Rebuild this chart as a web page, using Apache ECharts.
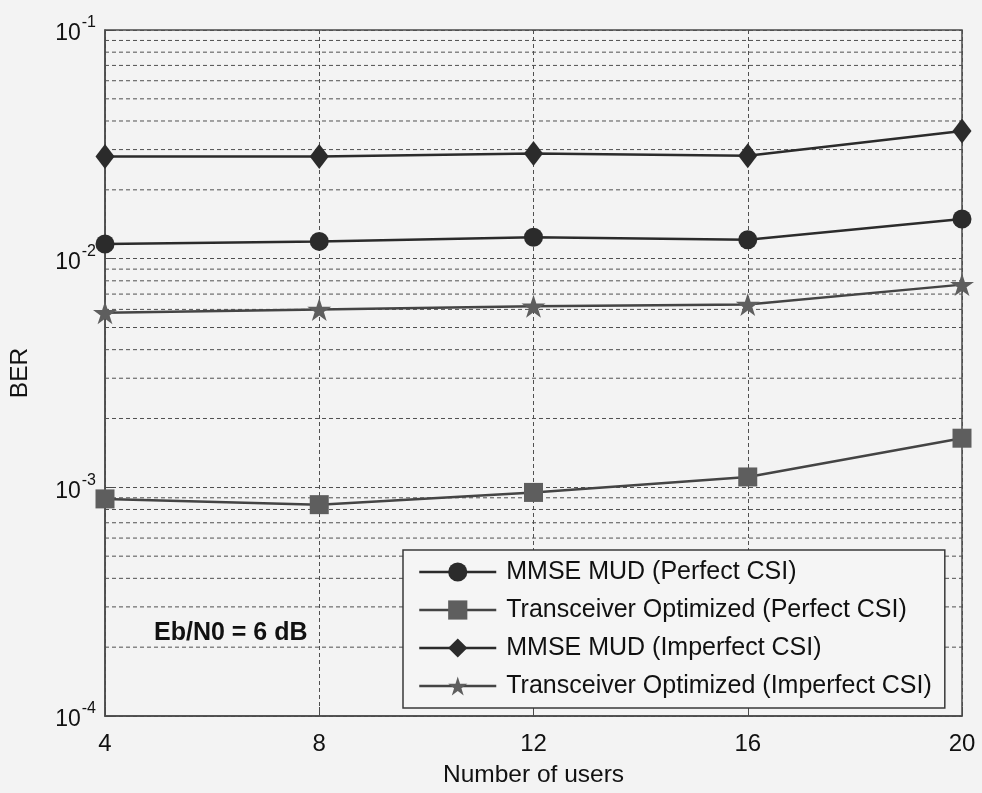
<!DOCTYPE html>
<html>
<head>
<meta charset="utf-8">
<script src="https://cdn.jsdelivr.net/npm/echarts@6/dist/echarts.min.js"></script>
<style>
html,body{margin:0;padding:0;background:#f3f3f3;}
#main{width:982px;height:793px;}
</style>
</head>
<body>
<div id="main"></div>
<script>
// ---- data ----
var users = [4, 8, 12, 16, 20];
var mmsePerfect   = [0.0116, 0.0119, 0.0124, 0.0121, 0.0149];
var toPerfect     = [0.00089, 0.00084, 0.00095, 0.00111, 0.00164];
var mmseImperfect = [0.0280, 0.0280, 0.0288, 0.0282, 0.0362];
var toImperfect   = [0.0058, 0.0060, 0.0062, 0.0063, 0.0077];
var seriesNames = [
  'MMSE MUD (Perfect CSI)',
  'Transceiver Optimized (Perfect CSI)',
  'MMSE MUD (Imperfect CSI)',
  'Transceiver Optimized (Imperfect CSI)'
];
var decades = [1e-4, 1e-3, 1e-2, 1e-1];
var xTicks = [4, 8, 12, 16, 20];

// minor grid values 2..9 x each decade
var minorVals = [];
for (var d = 0; d < decades.length - 1; d++) {
  for (var m = 2; m <= 9; m++) minorVals.push(+(m * decades[d]).toPrecision(3));
}

function pairs(ys) { return users.map(function (x, i) { return [x, ys[i]]; }); }

var FONT = "'Liberation Sans', Arial, sans-serif";
var starPath = 'path://M100,0L122.45,69.1L195.1,69.1L136.33,111.8L158.8,180.9L100,138.2L41.2,180.9L63.67,111.8L4.9,69.1L77.55,69.1Z';

var dark = '#2b2b2b', grey = '#5e5e5e';
var gridStyle = {color: '#505050', type: [4, 3], width: 1};

var series = [
  {
    name: seriesNames[0], type: 'line', data: pairs(mmsePerfect),
    symbol: 'circle', symbolSize: 19,
    lineStyle: {color: dark, width: 2.5}, itemStyle: {color: dark}, z: 5
  },
  {
    name: seriesNames[1], type: 'line', data: pairs(toPerfect),
    symbol: 'rect', symbolSize: 19,
    lineStyle: {color: '#444', width: 2.5}, itemStyle: {color: grey}, z: 5
  },
  {
    name: seriesNames[2], type: 'line', data: pairs(mmseImperfect),
    symbol: 'diamond', symbolSize: [19, 25],
    lineStyle: {color: dark, width: 2.5}, itemStyle: {color: dark}, z: 5
  },
  {
    name: seriesNames[3], type: 'line', data: pairs(toImperfect),
    symbol: starPath, symbolSize: [24, 23],
    lineStyle: {color: '#444', width: 2.5}, itemStyle: {color: grey}, z: 5
  }
];
// minor log grid lines (value from minor tick list, spanning the x-axis range)
minorVals.forEach(function (v) {
  series.push({
    type: 'line', silent: true, symbol: 'none', z: 1,
    data: [[xTicks[0], v], [xTicks[xTicks.length - 1], v]],
    lineStyle: gridStyle, emphasis: {disabled: true}, tooltip: {show: false}
  });
});

var chart = echarts.init(document.getElementById('main'), null, {renderer: 'canvas'});
chart.setOption({
  backgroundColor: '#f3f3f3',
  animation: false,
  textStyle: {fontFamily: FONT},
  grid: {left: 105, right: 20, top: 30, bottom: 69, show: true, borderColor: '#4a4a4a', borderWidth: 1.5, backgroundColor: 'transparent'},
  legend: {
    orient: 'vertical', left: 403, top: 550,
    selectedMode: false,
    backgroundColor: '#f5f5f5', borderColor: '#3a3a3a', borderWidth: 1.5,
    padding: [9, 13, 9, 15],
    itemWidth: 77, itemHeight: 24, itemGap: 12,
    lineStyle: {width: 2.5},
    textStyle: {fontSize: 25, color: '#111', fontFamily: FONT, lineHeight: 26, padding: [0, 0, 0, 5]},
    data: seriesNames
  },
  xAxis: {
    type: 'value', min: xTicks[0], max: xTicks[xTicks.length - 1], interval: 4,
    name: 'Number of users', nameLocation: 'middle', nameGap: 47,
    nameTextStyle: {fontSize: 24.5, color: '#111', fontFamily: FONT},
    axisLine: {show: true, lineStyle: {color: '#4a4a4a', width: 1.5}},
    axisTick: {show: true, inside: true, length: 9, lineStyle: {color: '#4a4a4a'}},
    axisLabel: {fontSize: 24, color: '#111', margin: 16, fontFamily: FONT},
    splitLine: {show: true, lineStyle: gridStyle}
  },
  yAxis: {
    type: 'log', logBase: 10, min: decades[0], max: decades[decades.length - 1],
    name: 'BER', nameLocation: 'middle', nameGap: 72,
    nameTextStyle: {fontSize: 24.5, color: '#111', fontFamily: FONT},
    axisLine: {show: true, lineStyle: {color: '#4a4a4a', width: 1.5}},
    axisTick: {show: true, inside: true, length: 9, lineStyle: {color: '#4a4a4a'}},
    axisLabel: {
      margin: 9, color: '#111',
      formatter: function (v) { return '{b|10}{s|' + Math.round(Math.log10(v)) + '}'; },
      rich: {
        b: {fontSize: 23, fontFamily: FONT, color: '#111', padding: [8, 0, 0, 0]},
        s: {fontSize: 16, fontFamily: FONT, color: '#111', padding: [0, 0, 14, 1]}
      }
    },
    splitLine: {show: true, lineStyle: gridStyle}
  },
  graphic: [{
    type: 'text', left: 154, top: 621, silent: true,
    style: {text: 'Eb/N0 = 6 dB', font: 'bold 25px ' + FONT, fill: '#111'}
  }],
  series: series
});
</script>
</body>
</html>
